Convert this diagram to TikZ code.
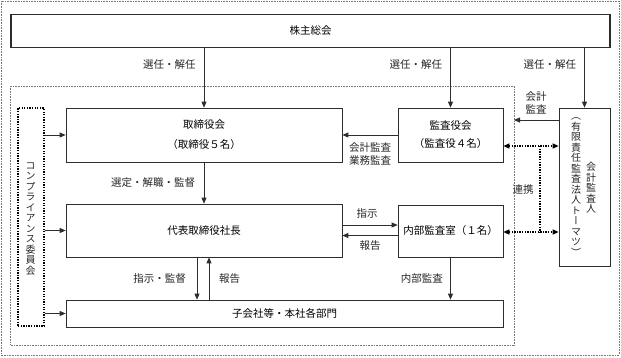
\documentclass[tikz,border=0pt]{standalone}
\usepackage{fontspec}
\setmainfont{Noto Sans CJK JP}
\newfontfamily\vjp[RawFeature=+vert]{Noto Sans CJK JP}
\usetikzlibrary{arrows.meta}
\definecolor{boxline}{RGB}{45,45,45}
\definecolor{framegray}{RGB}{120,120,120}

\begin{document}
\begin{tikzpicture}[x=1pt, y=-1pt,
  font=\fontsize{10.5}{13}\selectfont,
  box/.style={draw=boxline, line width=0.7pt, inner sep=0pt, align=center},
  arr/.style={draw=boxline, line width=0.8pt, -{Triangle[length=6pt,width=5pt]}},
  dotline/.style={draw=black, line width=1.3pt, dash pattern=on 1.3pt off 1.3pt},
  dotarr/.style={dotline, {Triangle[length=6pt,width=5pt]}-{Triangle[length=6pt,width=5pt]}},
  frame/.style={draw=framegray, line width=0.6pt, dash pattern=on 0.8pt off 0.8pt},
  lab/.style={inner sep=0pt, align=center, text=black!85},
  vtext/.style={inner sep=0pt, align=center, text=black!85, font=\fontsize{10}{10.5}\vjp}]

  \useasboundingbox (0,0) rectangle (621,357);

  % Frames (outer and inner, dotted)
  \draw[frame] (1,1) rectangle (619,355);
  \coordinate (in-nw) at (10.7,86);
  \coordinate (in-se) at (514,345);
  \draw[frame] (in-nw) rectangle (in-se);

  % Boxes
  \node[box, line width=1.5pt, minimum width=599pt, minimum height=33pt] (kabunushi) at (310.5,31) {株主総会};
  \node[box, minimum width=276pt, minimum height=54pt] (torishimari) at (204,135) {取締役会\\[7pt]（取締役５名）};
  \node[box, minimum width=276pt, minimum height=53pt] (daihyo) at (204,230.5) {代表取締役社長};
  \node[box, minimum width=437pt, minimum height=27pt] (kogaisha) at (284.5,313.5) {子会社等・本社各部門};
  \node[box, minimum width=105pt, minimum height=54pt] (kansayaku) at (450.5,135) {監査役会\\[5pt]（監査役４名）};
  \node[box, minimum width=105pt, minimum height=52pt] (naibu) at (450.5,231) {内部監査室（１名）};
  \node[box, minimum width=51pt, minimum height=158pt] (kaikei) at (584.5,187) {};
  \node[box, dotline, minimum width=26pt, minimum height=218pt] (comp) at (31,217) {};

  % Vertical texts
  \node[vtext] (kaikei-name) at (591,188) {会\\計\\監\\査\\人};
  \node[vtext] (kaikei-firm) at (576,187) {（\\有\\限\\責\\任\\監\\査\\法\\人\\ト\\ー\\マ\\ツ\\）};
  \node[vtext] (comp-name) at (30.5,219) {コ\\ン\\プ\\ラ\\イ\\ア\\ン\\ス\\委\\員\\会};

  % Election by the general meeting
  \foreach \tgt/\nm in {torishimari/sen1, kansayaku/sen2, kaikei/sen3}{
    \draw[arr] (kabunushi.south -| \tgt.north) -- (\tgt.north)
      node[lab, pos=0.28, anchor=east, xshift=-8pt] (\nm) {選任・解任};
  }

  % Compliance committee
  \foreach \tgt in {torishimari, daihyo, kogaisha}{
    \draw[arr] (comp.east |- \tgt.west) -- (\tgt.west);
  }

  % Accounting auditor -> inner frame
  \coordinate (kaikei-in) at (514,120);
  \draw[arr] (kaikei.west |- kaikei-in) -- (kaikei-in);
  \node[lab] (kaikei-lab) at (536,103) {会計\\監査};

  % Audit board -> board
  \draw[arr] (kansayaku.west) -- (torishimari.east);
  \node[lab] (kansa-lab) at (370,154) {会計監査\\業務監査};

  % Cooperation (dotted)
  \draw[dotarr] ([yshift=-11pt]kansayaku.east) -- ([yshift=-11pt]kansayaku.east -| kaikei.west);
  \draw[dotarr] ([yshift=-1pt]naibu.east) -- ([yshift=-1pt]naibu.east -| kaikei.west);
  \coordinate (renkei-t) at (540,146);
  \coordinate (renkei-b) at (540,232);
  \draw[dotline] (renkei-t) -- (renkei-b);
  \node[lab] (renkei) at (523,190) {連携};

  % Board -> representative director
  \draw[arr] (torishimari.south) -- (daihyo.north);
  \node[lab] (sentei) at (153,183) {選定・解職・監督};

  % Representative director <-> internal audit office
  \draw[arr] ([yshift=5.5pt]daihyo.east) -- ([yshift=5.5pt]daihyo.east -| naibu.west);
  \draw[arr] ([yshift=-4.5pt]naibu.west) -- ([yshift=-4.5pt]naibu.west -| daihyo.east);
  \node[lab] (shiji) at (367,214) {指示};
  \node[lab] (hokoku) at (370,246) {報告};

  % Down to subsidiaries
  \draw[arr] ([xshift=-7pt]daihyo.south) -- ([xshift=-7pt]daihyo.south |- kogaisha.north);
  \draw[arr] ([xshift=5pt]daihyo.south |- kogaisha.north) -- ([xshift=5pt]daihyo.south);
  \draw[arr] (naibu.south) -- (naibu.south |- kogaisha.north);
  \node[lab, anchor=east] (shiji2) at (186,279) {指示・監督};
  \node[lab, anchor=west] (hokoku2) at (219,279) {報告};
  \node[lab, anchor=east] (naibukansa) at (443,279) {内部監査};
\end{tikzpicture}
\end{document}
